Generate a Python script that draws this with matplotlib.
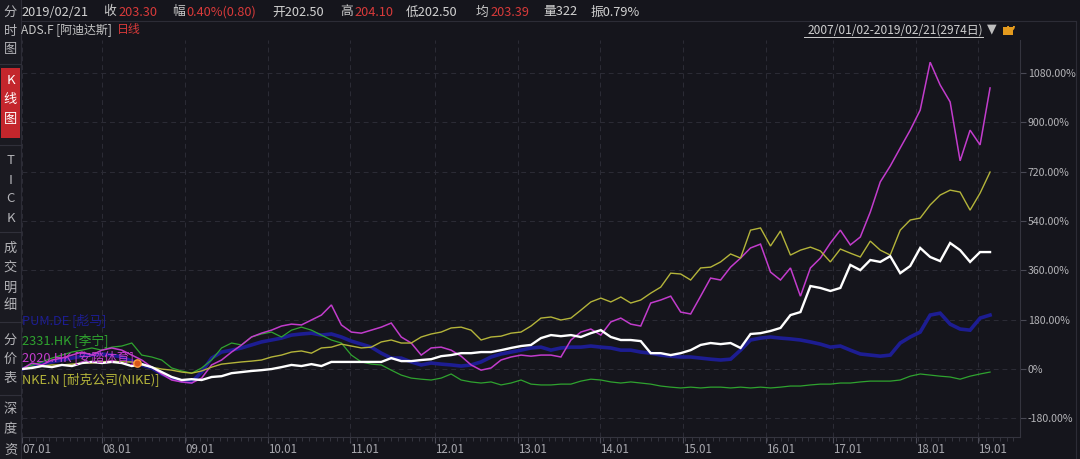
import numpy as np
import matplotlib
matplotlib.use('Agg')
import matplotlib.pyplot as plt
from matplotlib.patches import Rectangle, Arc

plt.rcParams['font.family'] = ['Noto Sans CJK SC', 'DejaVu Sans']

# trading-day index 0..2973 (2007/01/02 - 2019/02/21), 98 samples
n_pts = 98
days = np.linspace(0, 2973, n_pts)

year_days = [0, 246, 501, 755, 1007, 1268, 1523, 1775, 2030, 2285, 2491, 2745, 2936]
year_labels = ['07.01', '08.01', '09.01', '10.01', '11.01', '12.01', '13.01',
               '14.01', '15.01', '16.01', '17.01', '18.01', '19.01']
pct_ticks = [-180, 0, 180, 360, 540, 720, 900, 1080]

# cumulative change, %
ads = [0, 4, 11, 7, 15, 11, 22, 26, 22, 26, 22, 11, 18, 7, -11, -29, -40, -37, -40, -29,
       -26, -15, -11, -7, -4, 0, 7, 15, 11, 18, 11, 26, 26, 26, 26, 26, 26, 40, 29, 29,
       33, 36, 47, 51, 58, 58, 62, 62, 69, 77, 84, 88, 113, 124, 120, 124, 117, 131, 142, 117,
       106, 106, 102, 58, 58, 51, 58, 69, 88, 95, 91, 95, 77, 128, 131, 139, 150, 197, 208, 303,
       296, 285, 296, 380, 361, 398, 391, 412, 350, 376, 442, 409, 394, 460, 434, 391, 427, 427]
anta = [0, 22, 15, 33, 40, 51, 62, 51, 69, 77, 69, 51, 33, 7, -18, -40, -47, -51, -33, 15,
        33, 62, 88, 117, 131, 142, 157, 164, 161, 179, 197, 234, 161, 135, 131, 142, 153, 168, 117, 95,
        51, 77, 80, 69, 47, 15, -4, 4, 33, 44, 51, 47, 51, 51, 44, 106, 135, 146, 124, 172,
        186, 164, 157, 241, 252, 266, 208, 201, 266, 332, 325, 372, 405, 442, 456, 354, 325, 369, 266, 369,
        405, 460, 507, 453, 482, 573, 683, 741, 807, 872, 945, 1120, 1037, 975, 760, 872, 818, 1026]
nike = [0, 7, 11, 15, 15, 18, 22, 22, 26, 29, 26, 26, 15, 7, 0, -4, -11, -15, -7, 7,
        18, 22, 26, 29, 33, 44, 51, 62, 66, 58, 77, 80, 91, 84, 77, 80, 99, 106, 95, 95,
        117, 128, 135, 150, 153, 142, 106, 117, 120, 131, 135, 157, 186, 190, 179, 186, 215, 245, 259, 245,
        263, 241, 252, 277, 299, 350, 347, 325, 369, 372, 391, 420, 405, 507, 515, 449, 504, 416, 434, 445,
        431, 391, 438, 423, 409, 467, 434, 416, 507, 544, 551, 599, 635, 653, 646, 580, 642, 719]
puma = [0, 11, 18, 26, 33, 40, 47, 51, 55, 51, 44, 29, 15, 4, -18, -33, -44, -47, -11, 40,
        62, 69, 77, 88, 99, 106, 113, 124, 128, 131, 124, 128, 117, 102, 91, 80, 58, 40, 40, 26,
        15, 22, 18, 15, 11, 15, 26, 44, 55, 62, 69, 77, 80, 69, 77, 80, 80, 84, 80, 77,
        69, 69, 62, 58, 51, 47, 44, 44, 40, 36, 33, 36, 69, 106, 113, 117, 113, 110, 106, 99,
        91, 80, 84, 69, 55, 51, 47, 51, 95, 117, 135, 197, 204, 164, 146, 142, 186, 197]
lining = [0, 15, 26, 40, 51, 62, 69, 77, 69, 80, 84, 95, 51, 44, 33, 4, -7, -15, 4, 33,
          77, 95, 88, 117, 128, 135, 117, 142, 153, 142, 124, 106, 95, 51, 26, 18, 15, -4, -22, -33,
          -37, -40, -33, -18, -40, -47, -51, -47, -58, -51, -40, -55, -58, -58, -55, -55, -44, -37, -40, -47,
          -51, -47, -51, -55, -62, -66, -69, -66, -69, -66, -66, -69, -66, -69, -66, -69, -66, -62, -62, -58,
          -55, -55, -51, -51, -47, -44, -44, -44, -40, -26, -18, -22, -26, -29, -37, -26, -18, -11]

series = [
    ('PUM.DE [彪马]', puma, '#1d1d92', 2.6),
    ('2331.HK [李宁]', lining, '#2fa32f', 0.9),
    ('2020.HK [安踏体育]', anta, '#c23ccc', 1.1),
    ('NKE.N [耐克公司(NIKE)]', nike, '#b4b43a', 1.0),
    ('ADS.F [阿迪达斯]', ads, '#ffffff', 1.7),
]

event_day = [353]
event_pct = [22]

bg = '#15151c'
W, H = 1080, 459
fig = plt.figure(figsize=(W / 100, H / 100), dpi=100, facecolor=bg)

# overlay in pixel units for the terminal chrome
ov = fig.add_axes([0, 0, 1, 1])
ov.set_xlim(0, W)
ov.set_ylim(H, 0)
ov.axis('off')
ov.add_patch(Rectangle((0, 0), 21, H, facecolor='#1a1a21', edgecolor='none'))
ov.plot([21, 21], [0, H], color='#2c2c36', lw=0.8)
ov.plot([21, 1076], [21, 21], color='#2c2c36', lw=0.8)
ov.plot([1076, 1076], [21, H], color='#2c2c36', lw=0.8)
ov.add_patch(Rectangle((1, 68), 19, 70, facecolor='#c4262c', edgecolor='none'))
for y in [64, 145, 232, 322, 395]:
    ov.plot([0, 21], [y, y], color='#30303a', lw=0.8)

side = [('分', 12), ('时', 31), ('图', 50), ('K', 80), ('线', 100), ('图', 120),
        ('T', 160), ('I', 180), ('C', 199), ('K', 218), ('成', 248), ('交', 268),
        ('明', 288), ('细', 306), ('分', 340), ('价', 359), ('表', 378),
        ('深', 410), ('度', 430), ('资', 450)]
for i, (ch, y) in enumerate(side):
    col = '#ffffff' if 3 <= i <= 5 else '#b4b4b8'
    ov.text(10.5, y, ch, color=col, fontsize=9.5, ha='center', va='center')

info = [('2019/02/21', '#d2d2d2', 21), ('收', '#c8c8c8', 103), ('203.30', '#d83a3a', 118),
        ('幅', '#c8c8c8', 172), ('0.40%(0.80)', '#d83a3a', 186), ('开202.50', '#d2d2d2', 272),
        ('高', '#c8c8c8', 340), ('204.10', '#d83a3a', 354), ('低202.50', '#d2d2d2', 406),
        ('均', '#c8c8c8', 476), ('203.39', '#d83a3a', 490), ('量322', '#d2d2d2', 543),
        ('振0.79%', '#d2d2d2', 591)]
for s, c, x in info:
    ov.text(x, 12, s, color=c, fontsize=9.2, ha='left', va='center')
ov.text(21, 30, 'ADS.F [阿迪达斯]', color='#c8c8c8', fontsize=8.6, ha='left', va='center')
ov.text(117, 30, '日线', color='#d83a3a', fontsize=8.6, ha='left', va='center')

ov.text(983, 30, '2007/01/02-2019/02/21(2974日)', color='#cfcfcf', fontsize=8.6,
        ha='right', va='center')
ov.plot([804, 983], [37, 37], color='#cfcfcf', lw=0.7)
ov.text(992, 29, '▼', color='#bdbdbd', fontsize=9, ha='center', va='center',
        family='DejaVu Sans')
ov.add_patch(Rectangle((1003, 27), 10, 8, facecolor='#e39a1e', edgecolor='none'))
ov.add_patch(Arc((1011, 26), 6, 8, theta1=0, theta2=180, color='#e39a1e', lw=1.4))

# chart
x0, x1, y0, y1 = 22, 1020, 40, 437
ax = fig.add_axes([x0 / W, 1 - y1 / H, (x1 - x0) / W, (y1 - y0) / H])
ax.set_facecolor('none')
ax.set_xlim(0, 3065)
ax.set_ylim(-248, 1201)

for name, vals, col, lw in series:
    ax.plot(days, vals, color=col, lw=lw, solid_joinstyle='miter')
ax.scatter(event_day, event_pct, s=28, facecolor='#d8561c', edgecolor='#ff9a40', lw=1, zorder=5)

ax.set_xticks(year_days)
ax.set_xticklabels(year_labels, ha='left')
ax.set_xticks(np.arange(0, 3065, 21), minor=True)
ax.set_yticks(pct_ticks)
ax.set_yticklabels(['0%' if v == 0 else f'{v:.2f}%' for v in pct_ticks])
ax.yaxis.tick_right()
ax.tick_params(axis='y', colors='#4a4a55', labelcolor='#b4b4b8', labelsize=7.6,
               length=4, width=0.8, pad=1.5)
ax.tick_params(axis='x', which='major', colors='#4a4a55', labelcolor='#a8a8ae',
               labelsize=8.3, length=4, pad=0.5)
ax.tick_params(axis='x', which='minor', colors='#3a3a44', length=3, width=0.6)
ax.grid(True, color='#2c2c36', lw=0.7, ls=(0, (5, 4)))
for sp in ['top', 'left']:
    ax.spines[sp].set_visible(False)
ax.spines['right'].set_color('#34343e')
ax.spines['bottom'].set_color('#34343e')

legend_y = [320, 340, 358, 379]
for (name, vals, col, lw), y in zip(series[:4], legend_y):
    ov.text(22, y, name, color=col, fontsize=9.2, ha='left', va='center', zorder=3)
ov.set_zorder(2)
ov.patch.set_visible(False)

fig.savefig('out.png', dpi=100, facecolor=bg)
